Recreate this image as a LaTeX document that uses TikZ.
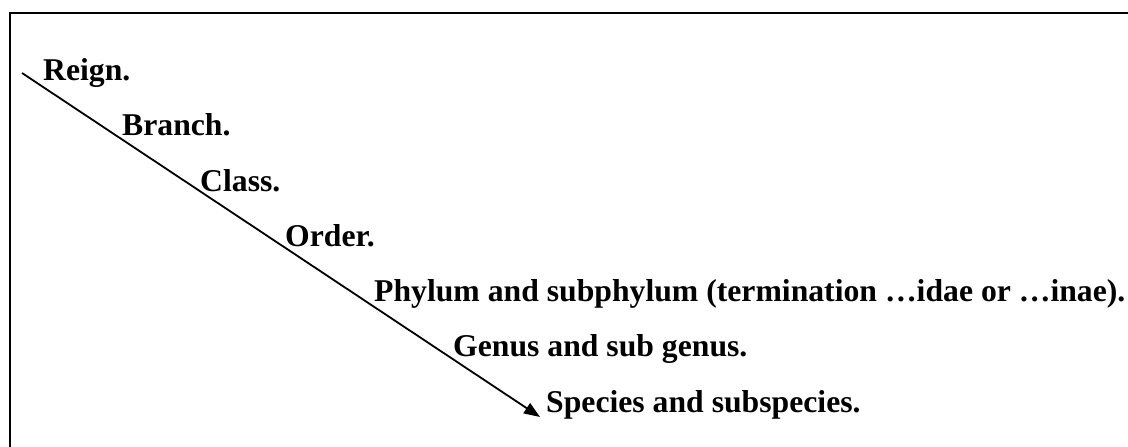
\documentclass[tikz,border=0pt]{standalone}
\usepackage{fontspec}
\setmainfont{Liberation Serif}
\usetikzlibrary{arrows.meta}

\begin{document}
\begin{tikzpicture}[x=1pt,y=-1pt,
    rank/.style={anchor=base west,inner sep=0pt,font=\fontsize{31.7}{38}\selectfont\bfseries}]
    \useasboundingbox (0,0) rectangle (1128,447);
    \draw[line width=2.5pt] (1128,13)--(10,13)--(10,447);
    \node[rank] (reign) at (43,80) {Reign.};
    \node[rank] (branch) at (122,135) {Branch.};
    \node[rank] (class) at (200,191) {Class.};
    \node[rank] (order) at (285,246) {Order.};
    \node[rank] (phylum) at (374,301) {Phylum and subphylum (termination …idae or …inae).};
    \node[rank] (genus) at (453,356) {Genus and sub genus.};
    \node[rank] (species) at (546,412) {Species and subspecies.};
    \coordinate (top) at (22,73);
    \coordinate (tip) at (540,417);
    \draw[line width=1.8pt,-{Triangle[length=16pt,width=12pt]}] (top)--(tip);
  \end{tikzpicture}
\end{document}
